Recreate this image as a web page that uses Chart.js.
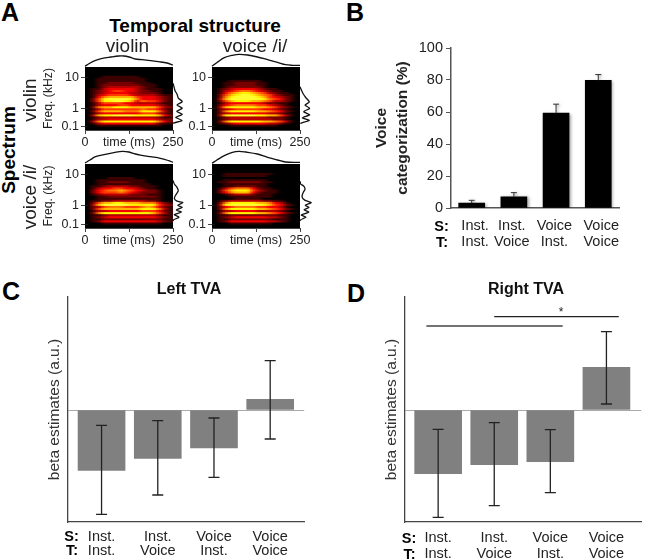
<!DOCTYPE html>
<html><head><meta charset="utf-8">
<script src="https://cdn.jsdelivr.net/npm/chart.js@4"></script>
<style>
html,body{margin:0;padding:0;background:#fff;width:648px;height:560px;overflow:hidden;font-family:"Liberation Sans",Arial,sans-serif}
canvas{position:absolute}
.t{position:absolute;white-space:nowrap;line-height:1;color:#222;transform-origin:center}
</style></head><body>
<script>
// ---------- Panel B data
const bCats = [0,1,2,3];
const bValues = [3.1,7,59.3,79.8];
const bErrTop = [4.8,9.6,64.9,83.4];
const bTickPos = [0.08,0.95,1.96,3.07];
const bTickLabels = [["Inst.","Inst."],["Inst.","Voice"],["Voice","Inst."],["Voice","Voice"]];
// ---------- Panel C data
const cCats = [0,1,2,3];
const cValues = [-60.3,-48.3,-38,10.7];
const cErrLow = [-104.3,-85,-67.3,-29];
const cErrHigh = [-15.3,-10.7,-8,49.3];
// ---------- Panel D data
const dCats = [0,1,2,3];
const dValues = [-63.7,-54.7,-51.7,42.7];
const dErrLow = [-107.3,-95.7,-82.7,6];
const dErrHigh = [-19.3,-12.7,-19.7,78.3];
const dSig1X = [-0.21,2.22];
const dSig1Y = [84,84];
const dSig2X = [1.0,3.22];
const dSig2Y = [93.3,93.3];
const tickLabels = [["Inst.","Inst."],["Inst.","Voice"],["Voice","Inst."],["Voice","Voice"]];
// ---------- Panel A: spectrogram intensities (rows top to bottom, 0-9)
const heatVV = [
"0000000000000000","0000000000000000","0000000000000000","0000000000000000",
"0001111111000000","0011111111100000","0011111111100000","0011222221110000",
"0012222222111000","0012333333211000","0113444443211100","0123455443221100",
"0123444433222100","0134555543333211","0146777775444321","0258999986444321",
"0258899874655421","0135555443333211","0134445544444321","0267788877777532",
"0135555555655421","0257777666888631","0134444444555321","0378899998888742",
"0123333333333211","0133444444444322","0368888888888642","0134444444444211",
"0011111111111100","0000000000000000","0000000000000000"];
const heatVI = [
"0000000000000000","0000000000000000","0000000000000000","0000000000000000",
"0000000000000000","0000000000000000","0001111110000000","0011222211000000",
"0011222211000000","0012222221000000","0123444432110000","0134566543211000",
"0146788765321100","0257899876532110","0268999987543210","0379999998654210",
"0257888776533210","0134444443221100","0245666655432100","0378888877653210",
"0234555554432100","0268888877654210","0234444444332100","0389999988775310",
"0123333333222100","0123333333322100","0268888887765310","0123444444332100",
"0001111111110000","0000000000000000","0000000000000000"];
const heatIV = [
"0000000000000000","0000000000000000","0000000000000000","0000000000000000",
"0000000000000000","0000000000000000","0000111110000000","0011111111100000",
"0011222211100000","0011111111110000","0112333322111000","0134455443211000",
"0245667654322100","0245556543222100","0123333322211100","0011222222222100",
"0011111111111100","0112233333322100","0257788777666421","0379999988888532",
"0235666555676421","0257777777888631","0133444444555421","0268888888887531",
"0112333333333211","0123444444444321","0112222222222211","0124444444444321",
"0001111111111100","0000000000000000","0000000000000000"];
const heatII = [
"0000000000000000","0000000000000000","0000000000000000","0000000000000000",
"0011111111100000","0011111111000000","0000000000000000","0011111111000000",
"0112222221100000","0011111111000000","0011222211000000","0135666421100000",
"0257888532110000","0246777421110000","0012333211100000","0001111111100000",
"0000111110000000","0123333332211000","0268888877643100","0389999998754210",
"0245666655443100","0268888877654210","0133444433332100","0268888877654210",
"0112222222221100","0123444444332100","0112222222211100","0124444444332100",
"0001111111100000","0000000000000000","0000000000000000"];
// envelopes (time ms / amplitude)
const envT1 = [0,11,30,49,73,96,110,125,143,162,186,209,233,250];
const envA1 = [.7,3.3,6.7,8.7,10,11,11,10,8,7.3,6.3,5.3,4,2];
const envT2 = [0,16,35,58,77,101,129,158,186,209,228,250];
const envA2 = [.7,5,9.3,11.7,12.7,12,10,7.3,4.7,2.3,1.7,1.7];
const envT3 = [0,14,30,54,82,106,125,143,162,186,214,238,250];
const envA3 = [1,4,7.3,9.3,11.3,12.7,12,10,8.7,7.3,5.7,3.3,1.7];
const envT4 = [0,14,35,58,77,96,129,158,186,209,250];
const envA4 = [.7,4,8.3,11.7,12.7,12,10,6.7,4,2,1.7];
// spectra (level / frequency position)
const specL1 = [0,1,2,4,5.3,9.3,4,9.3,3.7,9.3,2.7,9,1,0];
const specP1 = [23,21.3,19.3,17.7,15.7,14,12.3,10.7,9.2,7.7,6.2,4.7,3.5,3.3];
const specL2 = [0,1.7,3.3,5.7,9.3,5,9.7,3.7,9.7,2.3,9.3,1.7,.3];
const specP2 = [21.3,19.3,17.7,16,13.8,12.2,10.7,9,7.5,6,4.7,3.5,3.2];
const specL3 = [0,1.3,4,5.3,2.7,1.3,4,10,4.7,9.3,3.3,8.3,1.3,6,.7,0];
const specP3 = [23,21.3,19.7,18,16,14.3,13,12.3,11,10,8.7,7.7,6.5,5.3,4,3.5];
const specL4 = [0,.7,4,5,3.3,2,4.7,11.3,5.3,9,4,8.7,1.3,6,.7,.3];
const specP4 = [22.7,21.3,20.2,18.7,17.3,15.2,13.5,12.3,11,10,8.8,7.7,6.3,5.2,4,3.5];
const freqTickPos = [1.5,10.7,25.7];
const freqTickLabels = ["0.1","1","10"];
const timeTicks = [0,125,250];
const timeTickLabels = ["0","time (ms)","250"];

const FF = '"Liberation Sans",Arial,sans-serif';
const TC = '#222';
Chart.defaults.font.family = FF;
Chart.defaults.animation = false;

function addText(s,cx,cy,size,opt){opt=opt||{};
  const e=document.createElement('div');e.className='t';e.textContent=s;
  e.style.left=cx+'px';e.style.top=cy+'px';e.style.fontSize=size+'px';
  e.style.fontWeight=opt.bold?'700':'400';
  if(opt.color)e.style.color=opt.color;
  e.style.transform='translate(-50%,-50%)'+(opt.rot?' rotate(-90deg)':'');
  document.body.appendChild(e);}
function mkCanvas(l,t,w,h){const c=document.createElement('canvas');
  c.width=w;c.height=h;c.style.left=l+'px';c.style.top=t+'px';c.style.width=w+'px';c.style.height=h+'px';
  document.body.appendChild(c);return c;}
function hot(v){const t=v/10;
  const cl=x=>Math.max(0,Math.min(1,x));
  const r=cl(t/.42),g=cl((t-.4)/.42),b=cl((t-.85)/.25);
  return `rgb(${Math.round(r*255)},${Math.round(g*255)},${Math.round(b*255)})`;}
const blurPlugin={id:'heatBlur',afterDatasetsDraw(ch){
  const a=ch.chartArea,ctx=ch.ctx;
  ctx.save();ctx.beginPath();ctx.rect(a.left,a.top,a.right-a.left,a.bottom-a.top);ctx.clip();
  ctx.globalAlpha=.5;ctx.drawImage(ch.canvas,2.7,0);
  ctx.globalAlpha=.33;ctx.drawImage(ch.canvas,-2.7,0);
  ctx.globalAlpha=1;ctx.filter='blur(0.7px)';ctx.drawImage(ch.canvas,0,0);ctx.restore();}};

function heat(left,top,h,rows,eT,eA,sL,sP,withTitle){
  const w=88,pl=44,pt=16,pr=24,xh=22;
  const c=mkCanvas(left-pl,top-pt,pl+w+pr,pt+h+xh);
  const cols=rows[0].length,n=rows.length;
  const ds=rows.map((r,i)=>({type:'bar',xAxisID:'cat',yAxisID:'y',grouped:false,order:5,
    data:[...r].map(()=>[n-i-1,n-i]),
    backgroundColor:[...r].map(d=>hot(+d)),borderWidth:0,inflateAmount:0.6,
    barPercentage:1,categoryPercentage:1}));
  ds.push({type:'scatter',showLine:true,xAxisID:'x',yAxisID:'env',clip:false,order:1,
    data:eT.map((t,i)=>({x:t,y:eA[i]})),borderColor:'#111',borderWidth:1.3,pointRadius:0,tension:.35});
  ds.push({type:'scatter',showLine:true,xAxisID:'spec',yAxisID:'y',clip:false,order:1,
    data:sL.map((v,i)=>({x:v,y:sP[i]})),borderColor:'#111',borderWidth:1.3,pointRadius:0,tension:.2});
  new Chart(c,{type:'bar',data:{labels:Array.from({length:cols},(_,i)=>i),datasets:ds},plugins:[blurPlugin],
   options:{responsive:false,maintainAspectRatio:false,
    layout:{padding:{top:pt,right:pr,left:0,bottom:0}},
    plugins:{legend:{display:false},tooltip:{enabled:false}},
    scales:{
     cat:{type:'category',display:false,offset:true},
     spec:{type:'linear',display:false,min:-w,max:0,offset:false},
     env:{type:'linear',display:false,min:-h,max:0},
     x:{type:'linear',position:'bottom',min:0,max:250,offset:false,
       afterBuildTicks:s=>{s.ticks=timeTicks.map(v=>({value:v}))},
       afterFit:s=>{s.height=xh},
       border:{color:'#444',width:1},
       grid:{drawOnChartArea:false,drawTicks:true,tickLength:4,color:'#444',tickColor:'#444',offset:false},
       ticks:{autoSkip:false,maxRotation:0,padding:1,color:TC,font:{size:12.5},
         callback:v=>timeTickLabels[timeTicks.indexOf(v)]}},
     y:{type:'linear',position:'left',min:0,max:n,
       afterBuildTicks:s=>{s.ticks=freqTickPos.map(v=>({value:v}))},
       afterFit:s=>{s.width=pl},
       title:{display:withTitle,text:'Freq. (kHz)',color:TC,font:{size:12.2},padding:0},
       border:{color:'#444',width:1},
       grid:{drawOnChartArea:false,tickLength:4,color:'#444'},
       ticks:{padding:2,color:TC,font:{size:12.5},callback:v=>freqTickLabels[freqTickPos.indexOf(v)]}}
    }}});
}
heat(85,67,63,heatVV,envT1,envA1,specL1,specP1,true);
heat(212,67,63,heatVI,envT2,envA2,specL2,specP2,false);
heat(85,164,64,heatIV,envT3,envA3,specL3,specP3,true);
heat(212,164,64,heatII,envT4,envA4,specL4,specP4,false);

// Panel B
const shadow={id:'barShadow',beforeDatasetDraw(ch,a){ if(a.index===0){const c=ch.ctx;c.shadowColor='rgba(0,0,0,.35)';c.shadowBlur=3;c.shadowOffsetX=1.5;c.shadowOffsetY=1;}}};
(function(){
 const c=mkCanvas(372,28,258,224);
 const ds=[{type:'bar',order:2,data:bCats.map((x,i)=>({x,y:bValues[i]})),backgroundColor:'#000',barThickness:26}];
 bCats.forEach((x,i)=>ds.push({type:'scatter',showLine:true,order:1,
   data:[{x,y:bValues[i]},{x,y:bErrTop[i]}],borderColor:'#333',borderWidth:1,
   pointStyle:'line',pointRadius:[0,3],pointBorderColor:'#333',pointBorderWidth:1}));
 new Chart(c,{type:'bar',data:{datasets:ds},plugins:[shadow],options:{responsive:false,maintainAspectRatio:false,
  layout:{padding:{top:20,right:9.5,left:0,bottom:0}},
  plugins:{legend:{display:false},tooltip:{enabled:false}},
  scales:{
   x:{type:'linear',min:-0.49,max:3.51,offset:false,
     afterBuildTicks:s=>{s.ticks=bTickPos.map(v=>({value:v}))},
     afterFit:s=>{s.height=44},
     border:{color:'#555',width:1.5},
     grid:{display:true,drawOnChartArea:false,drawTicks:false,offset:false},
     ticks:{autoSkip:false,maxRotation:0,padding:10,color:TC,font:{size:14.5,lineHeight:1.1},
        callback:v=>bTickLabels[bTickPos.indexOf(v)]}},
   y:{type:'linear',min:0,max:100,
     afterFit:s=>{s.width=79},
     title:{display:true,text:['Voice','categorization (%)'],color:TC,font:{size:15.5,weight:'bold',lineHeight:1.3},padding:0},
     border:{color:'#555',width:1.5},
     grid:{drawOnChartArea:false,tickLength:5,color:'#555'},
     ticks:{stepSize:20,padding:3,color:TC,font:{size:14.5}}}
  }}});
})();

// Panels C and D
function tva(left,width,yw,xMin,xMax,cats,vals,lo,hi,extra,pr,lh,pad){
 const c=mkCanvas(left,290,width,270);
 const ds=[{type:'bar',order:3,data:cats.map((x,i)=>({x,y:vals[i]})),backgroundColor:'#808080',barThickness:47}];
 cats.forEach((x,i)=>ds.push({type:'scatter',showLine:true,order:1,
   data:[{x,y:lo[i]},{x,y:hi[i]}],borderColor:'#222',borderWidth:1.3,
   pointStyle:'line',pointRadius:5.5,pointBorderColor:'#222',pointBorderWidth:1.3}));
 (extra||[]).forEach(e=>ds.push({type:'scatter',showLine:true,order:2,clip:false,
   data:e.x.map((x,i)=>({x,y:e.y[i]})),borderColor:e.color,borderWidth:1.3,pointRadius:0}));
 new Chart(c,{type:'bar',data:{datasets:ds},options:{responsive:false,maintainAspectRatio:false,
  layout:{padding:{top:7,right:pr,left:0,bottom:0}},
  plugins:{legend:{display:false},tooltip:{enabled:false}},
  scales:{
   x:{type:'linear',min:xMin,max:xMax,offset:false,
     afterBuildTicks:s=>{s.ticks=cats.map(v=>({value:v}))},
     afterFit:s=>{s.height=38},
     border:{color:'#444',width:1.3},
     grid:{drawOnChartArea:false,drawTicks:false,offset:false},
     ticks:{autoSkip:false,maxRotation:0,padding:pad,color:TC,font:{size:14.5,lineHeight:lh},
       callback:v=>tickLabels[cats.indexOf(v)]}},
   y:{type:'linear',min:-112,max:113,
     afterBuildTicks:s=>{s.ticks=[{value:0}]},
     afterFit:s=>{s.width=yw},
     title:{display:true,text:'beta estimates (a.u.)',color:'#333',font:{size:15.5},padding:0},
     border:{color:'#444',width:1.3},
     grid:{drawTicks:false,color:'#aaa',lineWidth:1},
     ticks:{display:false}}
  }}});
}
tva(45,266,23,-0.597,3.605,cCats,cValues,cErrLow,cErrHigh,[],0,0.98,7.5);
tva(382,266,22.5,-0.6,3.62,dCats,dValues,dErrLow,dErrHigh,
  [{x:dSig1X,y:dSig1Y,color:'#444'},{x:dSig2X,y:dSig2Y,color:'#222'}],0,1.12,8);

// Text
addText('A',10,12,25,{bold:true,color:'#000'});
addText('B',355,12,25,{bold:true,color:'#000'});
addText('C',11,291,25,{bold:true,color:'#000'});
addText('D',356,293,25,{bold:true,color:'#000'});
addText('Temporal structure',195,25,19,{bold:true,color:'#000'});
addText('violin',127.5,45,19);
addText('voice /i/',255,45,19);
addText('Spectrum',8,150,19,{bold:true,rot:true,color:'#000'});
addText('violin',29,100,19,{rot:true});
addText('voice /i/',29,197,19,{rot:true});
addText('S:',441.5,226,14.5,{bold:true,color:'#000'});
addText('T:',442,242,14.5,{bold:true,color:'#000'});
addText('S:',71.5,535.7,14.5,{bold:true,color:'#000'});
addText('T:',72,550,14.5,{bold:true,color:'#000'});
addText('S:',409,538,14.5,{bold:true,color:'#000'});
addText('T:',409.5,554,14.5,{bold:true,color:'#000'});
addText('Left TVA',189,288.5,16,{bold:true,color:'#111'});
addText('Right TVA',526,288.5,16,{bold:true,color:'#111'});
addText('*',561,312,12,{color:'#222'});
</script>
</body></html>
